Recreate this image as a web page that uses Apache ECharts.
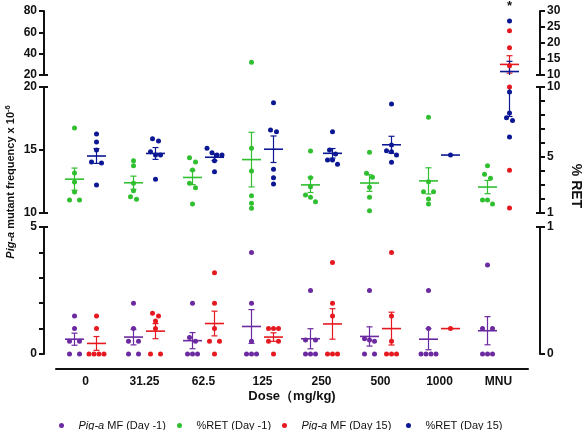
<!DOCTYPE html>
<html><head><meta charset="utf-8">
<script src="https://cdn.jsdelivr.net/npm/echarts@6/dist/echarts.min.js"></script>
<style>html,body{margin:0;padding:0;background:#fff}#c{width:583px;height:430px}</style>
</head><body><div id="c"></div>
<script>
// ---------------- data ----------------
const categories = ['0', '31.25', '62.5', '125', '250', '500', '1000', 'MNU'];
// Pig-a mutant frequency (x10^-6), left axis
const pigaMfDayMinus1 = [
  [1.5, 1.0, 0.5, 0.5, 0, 0],
  [2.0, 1.0, 0.5, 0.5, 0, 0],
  [2.0, 0.65, 0.5, 0, 0, 0],
  [4.0, 2.0, 0.5, 0, 0, 0],
  [2.5, 0.55, 0.55, 0, 0, 0],
  [2.5, 0.6, 0.55, 0.5, 0, 0],
  [2.5, 1.0, 0, 0, 0, 0],
  [3.5, 1.0, 1.0, 0, 0, 0]
];
const pigaMfDay15 = [
  [1.5, 1.0, 0, 0, 0, 0],
  [1.6, 1.5, 1.3, 1.0, 0, 0],
  [3.2, 2.0, 1.0, 0.5, 0.5, 0],
  [1.0, 1.0, 1.0, 0.5, 0.5, 0],
  [3.6, 2.0, 1.5, 0, 0, 0],
  [4.0, 1.5, 0.5, 0, 0, 0],
  [1.0],
  [61.5, 45.5, 28.7, 20.0, 13.4, 10.4]
];
// %RET, right axis
const retDayMinus1 = [
  [7.07, 3.86, 3.21, 2.5, 1.93, 1.93],
  [4.73, 4.38, 3.12, 2.59, 2.16, 1.98],
  [4.95, 4.64, 4.07, 3.12, 2.81, 1.64],
  [14.0, 5.62, 4.0, 2.24, 1.69, 1.34],
  [5.43, 3.52, 2.88, 2.29, 2.12, 1.81],
  [5.34, 3.84, 3.55, 2.84, 2.12, 1.16],
  [7.84, 3.24, 2.52, 2.52, 2.0, 1.64],
  [4.38, 3.76, 3.48, 1.93, 1.93, 1.64]
];
const retDay15 = [
  [6.64, 6.07, 5.5, 4.64, 4.57, 3.0],
  [6.31, 6.14, 5.38, 5.14, 5.14, 3.41],
  [5.62, 5.31, 5.14, 5.14, 4.74, 3.95],
  [8.88, 6.93, 6.81, 4.12, 3.52, 3.07],
  [6.81, 5.5, 5.21, 4.79, 4.79, 4.48],
  [8.79, 5.86, 5.45, 5.38, 5.14, 4.62],
  [5.14],
  [26.9, 9.64, 8.14, 7.8, 7.6, 6.43]
];
// tick labels of the broken axes (top, middle, bottom segments)
const leftTopLabels = [20, 40, 60, 80];
const leftMidLabels = [10, 15, 20];
const leftBottomLabels = [0, 5];
const rightTopLabels = [10, 15, 20, 25, 30];
const rightMidLabels = [1, 5, 10];
const rightBottomLabels = [0, 1];
const seriesNames = ['Pig-a MF (Day -1)', '%RET (Day -1)', 'Pig-a MF (Day 15)', '%RET (Day 15)'];

// ---------------- layout / style ----------------
const FONT = "'Liberation Sans', Arial, sans-serif";
const INK = '#111';
const panels = [
  {top: 11, height: 64, left: {labels: leftTopLabels, interval: 20, caps: [leftTopLabels[0]]},
   right: {labels: rightTopLabels, interval: 5, caps: [rightTopLabels[0]]}},
  {top: 87, height: 126, left: {labels: leftMidLabels, interval: 5, caps: [leftMidLabels[0], leftMidLabels[leftMidLabels.length - 1]]},
   right: {labels: rightMidLabels, interval: 1, caps: [rightMidLabels[0], rightMidLabels[rightMidLabels.length - 1]]}},
  {top: 227, height: 127, left: {labels: leftBottomLabels, interval: 1, caps: [leftBottomLabels[leftBottomLabels.length - 1]]},
   right: {labels: rightBottomLabels, interval: 1, caps: [rightBottomLabels[rightBottomLabels.length - 1]]}}
];
const groups = [
  {name: seriesNames[0], data: pigaMfDayMinus1, side: 'left', color: '#6c2aa1', off: -11},
  {name: seriesNames[1], data: retDayMinus1, side: 'right', color: '#2fbf2f', off: -11},
  {name: seriesNames[2], data: pigaMfDay15, side: 'left', color: '#e5191f', off: 11},
  {name: seriesNames[3], data: retDay15, side: 'right', color: '#0b1793', off: 11}
];
function yIdx(p, side) { return 2 * p + (side === 'right' ? 1 : 0); }

const chart = echarts.init(document.getElementById('c'), null, {renderer: 'canvas'});

const grids = panels.map(P => ({left: 56, right: 55, top: P.top, height: P.height, outerBoundsMode: 'none', containLabel: false}));
const yAxes = [];
panels.forEach((P, p) => {
  ['left', 'right'].forEach(side => {
    const S = P[side];
    yAxes[yIdx(p, side)] = {
      type: 'value', gridIndex: p, position: side, offset: 12,
      min: S.labels[0], max: S.labels[S.labels.length - 1], interval: S.interval,
      axisLine: {show: true, onZero: false, lineStyle: {color: INK, width: 2}},
      axisTick: {show: true, length: 5, lineStyle: {color: INK, width: 2}},
      axisLabel: {customValues: S.labels, fontWeight: 'bold', fontSize: 12, color: INK, fontFamily: FONT, margin: 7},
      splitLine: {show: false}
    };
  });
});
panels.forEach((P, p) => {
  ['left', 'right'].forEach(side => {
    const S = P[side];
    yAxes.push({
      type: 'value', gridIndex: p, position: side, offset: 12,
      min: S.labels[0], max: S.labels[S.labels.length - 1], interval: S.interval,
      axisLine: {show: false, onZero: false},
      axisTick: {show: true, inside: true, length: 4, customValues: S.caps, lineStyle: {color: INK, width: 2}},
      axisLabel: {show: false}, splitLine: {show: false}
    });
  });
});
const xAxes = panels.map((P, p) => ({type: 'value', gridIndex: p, min: -0.5, max: categories.length - 0.5, show: false,
  axisLine: {onZero: false}, splitLine: {show: false}}));
xAxes.push({
  type: 'category', gridIndex: 2, data: categories, position: 'bottom', offset: 15,
  axisLine: {onZero: false, lineStyle: {color: INK, width: 2}},
  axisTick: {alignWithLabel: true, length: 5, lineStyle: {color: INK, width: 2}},
  axisLabel: {fontWeight: 'bold', fontSize: 12, color: INK, fontFamily: FONT, margin: 7},
  name: 'Dose（mg/kg)', nameLocation: 'middle', nameGap: 21, nameMoveOverlap: false,
  nameTextStyle: {fontWeight: 'bold', fontSize: 13, color: INK, fontFamily: FONT}
});

chart.setOption({animation: false, grid: grids, xAxis: xAxes, yAxis: yAxes, series: []});

// ---------------- derived positions through the axes ----------------
const pxPerUnit = chart.convertToPixel({xAxisIndex: 0}, 1) - chart.convertToPixel({xAxisIndex: 0}, 0);
function panelOf(v, side) {
  for (let p = 2; p >= 0; p--) {
    const L = panels[p][side].labels;
    if (v >= L[0] && v <= L[L.length - 1]) return p;
  }
  return -1;
}
function stats(arr) {
  const n = arr.length, m = arr.reduce((a, b) => a + b, 0) / n;
  if (n < 2) return {m, sem: 0};
  const sd = Math.sqrt(arr.reduce((a, b) => a + (b - m) * (b - m), 0) / (n - 1));
  return {m, sem: sd / Math.sqrt(n)};
}

const series = [];
groups.forEach(g => {
  const perPanel = [[], [], []];
  const barData = [];
  g.data.forEach((vals, c) => {
    const pts = [];
    vals.forEach(v => {
      const p = panelOf(v, g.side);
      if (p < 0) return;
      pts.push({v, p, py: chart.convertToPixel({yAxisIndex: yIdx(p, g.side)}, v)});
    });
    pts.sort((a, b) => a.py - b.py);
    const clusters = [];
    pts.forEach(pt => {
      const last = clusters[clusters.length - 1];
      if (last && last[0].p === pt.p && pt.py - last[last.length - 1].py < 4.5) last.push(pt);
      else clusters.push([pt]);
    });
    clusters.forEach(cl => {
      const n = cl.length;
      const step = n === 2 ? (Math.abs(cl[1].py - cl[0].py) < 1.5 ? 10 : 6) : 5;
      cl.forEach((pt, i) => {
        const dx = (i - (n - 1) / 2) * step;
        perPanel[pt.p].push([c + (g.off + dx) / pxPerUnit, pt.v]);
      });
    });
    const s = stats(vals);
    barData.push([c + g.off / pxPerUnit, s.m, s.m - s.sem, s.m + s.sem]);
  });
  panels.forEach((P, p) => {
    series.push({
      type: 'custom', name: g.name + ' mean', xAxisIndex: p, yAxisIndex: yIdx(p, g.side), clip: true, silent: true, z: 2,
      data: barData,
      renderItem: (params, api) => {
        const x = api.value(0), m = api.value(1), lo = api.value(2), hi = api.value(3);
        const pm = api.coord([x, m]), pl = api.coord([x, lo]), ph = api.coord([x, hi]);
        const ch = [{type: 'line', shape: {x1: pm[0] - 9.5, y1: pm[1], x2: pm[0] + 9.5, y2: pm[1]},
          style: {stroke: g.color, lineWidth: 1.6}}];
        if (hi > lo) {
          ch.push({type: 'line', shape: {x1: pm[0], y1: ph[1], x2: pm[0], y2: pl[1]}, style: {stroke: g.color, lineWidth: 1.2}});
          ch.push({type: 'line', shape: {x1: pm[0] - 3, y1: ph[1], x2: pm[0] + 3, y2: ph[1]}, style: {stroke: g.color, lineWidth: 1.2}});
          ch.push({type: 'line', shape: {x1: pm[0] - 3, y1: pl[1], x2: pm[0] + 3, y2: pl[1]}, style: {stroke: g.color, lineWidth: 1.2}});
        }
        return {type: 'group', children: ch};
      }
    });
    series.push({
      type: 'scatter', name: g.name, xAxisIndex: p, yAxisIndex: yIdx(p, g.side), data: perPanel[p],
      symbol: 'circle', symbolSize: 5, itemStyle: {color: g.color, opacity: 1}, silent: true, z: 3
    });
  });
});

const legendLefts = [54, 172, 277, 401];
const legends = seriesNames.map((nm, i) => ({
  data: [nm], left: legendLefts[i], top: 415, orient: 'horizontal', icon: 'circle',
  itemWidth: 24, itemHeight: 5, selectedMode: false,
  formatter: name => name.indexOf('Pig-a') === 0 ? '{i|Pig-a}' + name.slice(5) : name,
  textStyle: {fontSize: 11, color: INK, fontFamily: FONT,
    rich: {i: {fontStyle: 'italic', fontSize: 11, color: INK, fontFamily: FONT}}}
}));

const starX = chart.convertToPixel({xAxisIndex: 0}, categories.length - 1) + 11;
chart.setOption({
  legend: legends,
  series: series,
  graphic: [
    {type: 'text', x: 11, y: 182, rotation: Math.PI / 2, silent: true,
      style: {text: '{i|Pig-a}{n| mutant frequency x 10}{s|-6}', align: 'center', verticalAlign: 'middle',
        textAlign: 'center', textVerticalAlign: 'middle', fill: INK,
        font: 'bold 11px ' + FONT,
        rich: {i: {fontStyle: 'italic', fontWeight: 'bold', fontSize: 11, fontFamily: FONT, fill: INK, color: INK},
               n: {fontWeight: 'bold', fontSize: 11, fontFamily: FONT, fill: INK, color: INK},
               s: {fontWeight: 'bold', fontSize: 7.5, fontFamily: FONT, fill: INK, color: INK, verticalAlign: 'top', lineHeight: 14}}}},
    {type: 'text', x: 576, y: 186, rotation: -Math.PI / 2, silent: true,
      style: {text: '% RET', align: 'center', verticalAlign: 'middle', textAlign: 'center', textVerticalAlign: 'middle',
        fill: INK, font: 'bold 14px ' + FONT}},
    {type: 'text', x: starX, y: 6, silent: true,
      style: {text: '*', align: 'center', verticalAlign: 'middle', textAlign: 'center', textVerticalAlign: 'middle',
        fill: INK, font: 'bold 13px ' + FONT}}
  ]
});
</script></body></html>
